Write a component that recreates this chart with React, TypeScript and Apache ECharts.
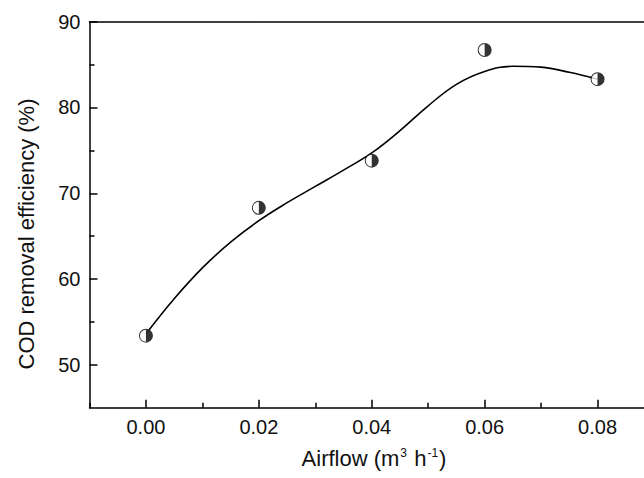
import React, { useEffect, useRef } from "react";
import * as echarts from "echarts";

const airflow = [0, 0.02, 0.04, 0.06, 0.08];
const codRemoval = [53.4, 68.3, 73.8, 86.7, 83.3];

const fitAirflow = [0, 0.005, 0.01, 0.015, 0.02, 0.025, 0.03, 0.035, 0.04, 0.045, 0.05, 0.055, 0.06, 0.065, 0.07, 0.075, 0.08];
const fitCod = [53.6, 57.7, 61.3, 64.3, 66.8, 68.9, 70.8, 72.7, 74.7, 77.3, 80.2, 82.7, 84.2, 84.8, 84.7, 84.1, 83.3];

const xMajorTicks = [0, 0.02, 0.04, 0.06, 0.08];
const xMinorTicks = [-0.01, 0.01, 0.03, 0.05, 0.07];
const yMajorTicks = [50, 60, 70, 80, 90];
const yMinorTicks = [55, 65, 75, 85];

const FONT = "'Liberation Sans', Arial, Helvetica, sans-serif";
const TXT = "#111";

// ring with right half filled (left half is a hole)
const HALF =
  "path://M0,-10 A10,10 0 1 1 0,10 A10,10 0 1 1 0,-10 Z M0,-8.6 A8.6,8.6 0 0 0 0,8.6 Z";

export default function App() {
  const ref = useRef<HTMLDivElement>(null);
  useEffect(() => {
    if (!ref.current) return;
    const chart = echarts.init(ref.current, undefined, { renderer: "svg" });
    const gridBox = { left: 89.5, top: 21.7, right: -10, bottom: 70.3, outerBoundsMode: "none" as any, show: false };
    const line = { show: true, onZero: false, lineStyle: { color: "#000", width: 1.5 } };
    const noLine = { show: false, onZero: false };
    const baseX = { type: "value", min: -0.01, max: 0.09, interval: 0.01, splitLine: { show: false } };
    const baseY = { type: "value", min: 45, max: 90, interval: 5, splitLine: { show: false } };
    chart.setOption({
      animation: false,
      backgroundColor: "#fff",
      grid: [gridBox, gridBox, gridBox],
      xAxis: [
        {
          ...baseX,
          gridIndex: 0,
          position: "bottom",
          axisLine: line,
          axisTick: { show: true, inside: true, length: 8, customValues: xMajorTicks, lineStyle: { color: "#000", width: 1.5 } },
          axisLabel: {
            customValues: xMajorTicks,
            formatter: (v: number) => v.toFixed(2),
            color: TXT,
            fontSize: 20,
            fontFamily: FONT,
            margin: 9,
          },
        },
        {
          ...baseX,
          gridIndex: 1,
          position: "bottom",
          axisLine: noLine,
          axisLabel: { show: false },
          axisTick: { show: true, inside: true, length: 5, customValues: xMinorTicks, lineStyle: { color: "#000", width: 1.5 } },
        },
        {
          ...baseX,
          gridIndex: 2,
          position: "top",
          axisLine: line,
          axisLabel: { show: false },
          axisTick: { show: false },
        },
      ],
      yAxis: [
        {
          ...baseY,
          gridIndex: 0,
          position: "left",
          axisLine: line,
          axisTick: { show: true, inside: true, length: 8, customValues: yMajorTicks, lineStyle: { color: "#000", width: 1.5 } },
          axisLabel: { customValues: yMajorTicks, color: TXT, fontSize: 20, fontFamily: FONT, margin: 9 },
        },
        {
          ...baseY,
          gridIndex: 1,
          position: "left",
          axisLine: noLine,
          axisLabel: { show: false },
          axisTick: { show: true, inside: true, length: 5, customValues: yMinorTicks, lineStyle: { color: "#000", width: 1.5 } },
        },
        {
          ...baseY,
          gridIndex: 2,
          position: "right",
          axisLine: noLine,
          axisLabel: { show: false },
          axisTick: { show: false },
        },
      ],
      graphic: [
        {
          type: "text",
          x: 26.5,
          y: 234,
          rotation: Math.PI / 2,
          style: {
            text: "COD removal efficiency (%)",
            fill: TXT,
            fontSize: 22,
            fontFamily: FONT,
            align: "center",
            verticalAlign: "middle",
          },
        },
        {
          type: "text",
          x: 374,
          y: 458,
          style: {
            text: "Airflow (m{sup|3} h{sup|-1})",
            fill: TXT,
            fontSize: 22,
            fontFamily: FONT,
            align: "center",
            verticalAlign: "middle",
            rich: {
              sup: { fontSize: 12, fontFamily: FONT, fill: TXT, verticalAlign: "top", padding: [0, 1, 0, 1] },
            },
          },
        },
      ],
      series: [
        {
          type: "line",
          xAxisIndex: 0,
          yAxisIndex: 0,
          data: fitAirflow.map((x, i) => [x, fitCod[i]]),
          smooth: 0.4,
          showSymbol: false,
          symbol: "none",
          lineStyle: { color: "#000", width: 1.6 },
          z: 2,
        },
        {
          type: "scatter",
          xAxisIndex: 0,
          yAxisIndex: 0,
          data: airflow.map((x, i) => [x, codRemoval[i]]),
          symbol: "circle",
          symbolSize: 13,
          itemStyle: { color: "#fff" },
          z: 3,
        },
        {
          type: "scatter",
          xAxisIndex: 0,
          yAxisIndex: 0,
          data: airflow.map((x, i) => [x, codRemoval[i]]),
          symbol: HALF,
          symbolSize: 14,
          itemStyle: { color: "#000" },
          z: 4,
        },
      ],
    });
    return () => chart.dispose();
  }, []);
  return <div ref={ref} style={{ width: 644, height: 478, position: "absolute", left: 0, top: 0 }} />;
}
